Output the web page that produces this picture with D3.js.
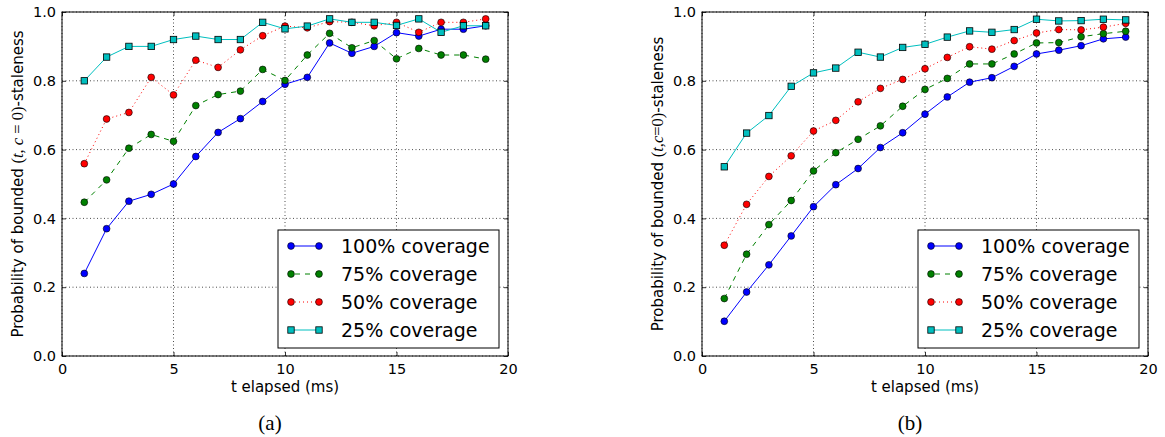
<!DOCTYPE html>
<html>
<head>
<meta charset="utf-8">
<script src="https://cdn.jsdelivr.net/npm/d3@7/dist/d3.min.js"></script>
<style>
  html, body { margin: 0; padding: 0; background: #fff; }
  svg { display: block; }
</style>
</head>
<body>
<svg id="chart" width="1165" height="437"></svg>
<script>
// ---------- data ----------
const tValues = [1,2,3,4,5,6,7,8,9,10,11,12,13,14,15,16,17,18,19];
const xTicks = [0,5,10,15,20];
const yTicks = [0.0,0.2,0.4,0.6,0.8,1.0];
const seriesNames = ["100% coverage","75% coverage","50% coverage","25% coverage"];

const a100 = [0.24,0.37,0.45,0.47,0.50,0.58,0.65,0.69,0.74,0.79,0.81,0.91,0.88,0.90,0.94,0.93,0.95,0.95,0.96];
const a75  = [0.447,0.512,0.604,0.644,0.624,0.728,0.760,0.770,0.833,0.801,0.875,0.938,0.896,0.917,0.864,0.894,0.875,0.875,0.863];
const a50  = [0.559,0.689,0.708,0.810,0.759,0.860,0.839,0.890,0.931,0.959,0.954,0.972,0.970,0.960,0.970,0.941,0.970,0.970,0.980];
const a25  = [0.800,0.869,0.900,0.900,0.920,0.930,0.920,0.920,0.970,0.951,0.959,0.980,0.970,0.970,0.961,0.980,0.941,0.960,0.960];

const b100 = [0.101,0.186,0.265,0.349,0.434,0.498,0.545,0.606,0.649,0.703,0.753,0.796,0.809,0.842,0.878,0.889,0.902,0.922,0.927];
const b75  = [0.167,0.296,0.382,0.452,0.538,0.591,0.630,0.669,0.726,0.775,0.807,0.849,0.849,0.878,0.910,0.911,0.928,0.937,0.944];
const b50  = [0.322,0.441,0.522,0.582,0.654,0.685,0.739,0.778,0.804,0.835,0.868,0.899,0.892,0.917,0.939,0.949,0.948,0.956,0.967];
const b25  = [0.550,0.648,0.699,0.784,0.823,0.837,0.883,0.869,0.897,0.906,0.927,0.945,0.941,0.949,0.979,0.974,0.975,0.979,0.977];

// ---------- styles ----------
const styles = [
  {color:"#0000ff", dash:null,  marker:"circle"},
  {color:"#008000", dash:"5,5", marker:"circle"},
  {color:"#ff0000", dash:"1,3", marker:"circle"},
  {color:"#00bfbf", dash:null,  marker:"square"}
];

const svg = d3.select("#chart");
const SANS = "DejaVu Sans";
const SERIF = "'Liberation Serif', 'DejaVu Serif', serif";

function drawMarker(g, type, x, y, color) {
  if (type === "circle") {
    g.append("circle").attr("cx", x).attr("cy", y).attr("r", 3.4)
      .attr("fill", color).attr("stroke", "#000").attr("stroke-width", 0.6);
  } else {
    g.append("rect").attr("x", x - 3.2).attr("y", y - 3.2).attr("width", 6.4).attr("height", 6.4)
      .attr("fill", color).attr("stroke", "#000").attr("stroke-width", 0.8);
  }
}

function drawPanel(opts) {
  const {x0, x1, y0, y1, series, mathSpaced, caption, legendRight} = opts;
  const x = d3.scaleLinear().domain([0, 20]).range([x0, x1]);
  const y = d3.scaleLinear().domain([0, 1]).range([y1, y0]);
  const g = svg.append("g");

  // grid
  const grid = g.append("g");
  xTicks.forEach(t => {
    grid.append("line").attr("x1", x(t)).attr("x2", x(t)).attr("y1", y0).attr("y2", y1)
      .attr("stroke", "#000").attr("stroke-width", 0.7).attr("stroke-dasharray", "1,2.5");
  });
  yTicks.forEach(t => {
    grid.append("line").attr("x1", x0).attr("x2", x1).attr("y1", y(t)).attr("y2", y(t))
      .attr("stroke", "#000").attr("stroke-width", 0.7).attr("stroke-dasharray", "1,2.5");
  });

  // axes (ticks inside) via d3 axes
  const axB = d3.axisBottom(x).tickValues(xTicks).tickSize(-4).tickPadding(8).tickFormat(d3.format("d"));
  const axL = d3.axisLeft(y).tickValues(yTicks).tickSize(-4).tickPadding(6).tickFormat(d3.format(".1f"));
  const axT = d3.axisTop(x).tickValues(xTicks).tickSize(-4).tickFormat("");
  const axR = d3.axisRight(y).tickValues(yTicks).tickSize(-4).tickFormat("");
  const gb = g.append("g").attr("transform", `translate(0,${y1})`).call(axB);
  const gl = g.append("g").attr("transform", `translate(${x0},0)`).call(axL);
  const gt = g.append("g").attr("transform", `translate(0,${y0})`).call(axT);
  const gr = g.append("g").attr("transform", `translate(${x1},0)`).call(axR);
  [gb, gl, gt, gr].forEach(a => {
    a.select(".domain").remove();
    a.selectAll("line").attr("stroke", "#000").attr("stroke-width", 0.8);
    a.selectAll("text").attr("font-family", SANS).attr("font-size", 14.5).attr("fill", "#000");
  });

  // series
  series.forEach((vals, i) => {
    const st = styles[i];
    const line = d3.line().x((d, j) => x(tValues[j])).y(d => y(d));
    const path = g.append("path").datum(vals).attr("d", line)
      .attr("fill", "none").attr("stroke", st.color).attr("stroke-width", 1);
    if (st.dash) path.attr("stroke-dasharray", st.dash);
    const mg = g.append("g");
    vals.forEach((v, j) => drawMarker(mg, st.marker, x(tValues[j]), y(v), st.color));
  });

  // frame
  g.append("rect").attr("x", x0).attr("y", y0).attr("width", x1 - x0).attr("height", y1 - y0)
    .attr("fill", "none").attr("stroke", "#000").attr("stroke-width", 1);

  // legend
  const lw = 221, lh = 118;
  const lx = legendRight - lw, ly = 230;
  const lg = g.append("g");
  lg.append("rect").attr("x", lx).attr("y", ly).attr("width", lw).attr("height", lh)
    .attr("fill", "#fff").attr("stroke", "#000").attr("stroke-width", 1);
  seriesNames.forEach((name, i) => {
    const st = styles[i];
    const ry = ly + 16 + i * 28;
    const l = lg.append("line").attr("x1", lx + 13).attr("x2", lx + 41).attr("y1", ry).attr("y2", ry)
      .attr("stroke", st.color).attr("stroke-width", 1);
    if (st.dash) l.attr("stroke-dasharray", st.dash);
    if (st.dash === "5,5") l.attr("stroke-dashoffset", -4);
    drawMarker(lg, st.marker, lx + 13, ry, st.color);
    drawMarker(lg, st.marker, lx + 41, ry, st.color);
    lg.append("text").attr("x", lx + 63).attr("y", ry + 6.5)
      .attr("font-family", SANS).attr("font-size", 19).attr("fill", "#000").text(name);
  });

  // x label
  g.append("text").attr("x", (x0 + x1) / 2).attr("y", 392).attr("text-anchor", "middle")
    .attr("font-family", SANS).attr("font-size", 15).attr("fill", "#000").text("t elapsed (ms)");

  // y label
  const yl = g.append("text").attr("transform", `translate(${x0 - 39},${(y0 + y1) / 2}) rotate(-90)`)
    .attr("text-anchor", "middle").attr("font-family", SANS).attr("font-size", 15).attr("fill", "#000");
  yl.append("tspan").text("Probability of bounded ");
  yl.append("tspan").attr("font-family", SERIF).attr("font-size", 16.5).text("(");
  yl.append("tspan").attr("font-family", SERIF).attr("font-style", "italic").attr("font-size", 16.5).text("t");
  yl.append("tspan").attr("font-family", SERIF).attr("font-size", 16.5).text(mathSpaced ? ", " : ",");
  yl.append("tspan").attr("font-family", SERIF).attr("font-style", "italic").attr("font-size", 16.5).text("c");
  yl.append("tspan").attr("font-family", SERIF).attr("font-size", 16.5).text(mathSpaced ? " = 0)" : "=0)");
  yl.append("tspan").text("-staleness");

  // caption
  g.append("text").attr("x", (x0 + x1) / 2 - 15).attr("y", 430).attr("text-anchor", "middle")
    .attr("font-family", SERIF).attr("font-size", 21).attr("fill", "#000").text(caption);
}

drawPanel({x0: 62, x1: 508, y0: 12, y1: 356, series: [a100, a75, a50, a25], mathSpaced: true, caption: "(a)", legendRight: 499});
drawPanel({x0: 702, x1: 1148, y0: 12, y1: 356, series: [b100, b75, b50, b25], mathSpaced: false, caption: "(b)", legendRight: 1139});
</script>
</body>
</html>
